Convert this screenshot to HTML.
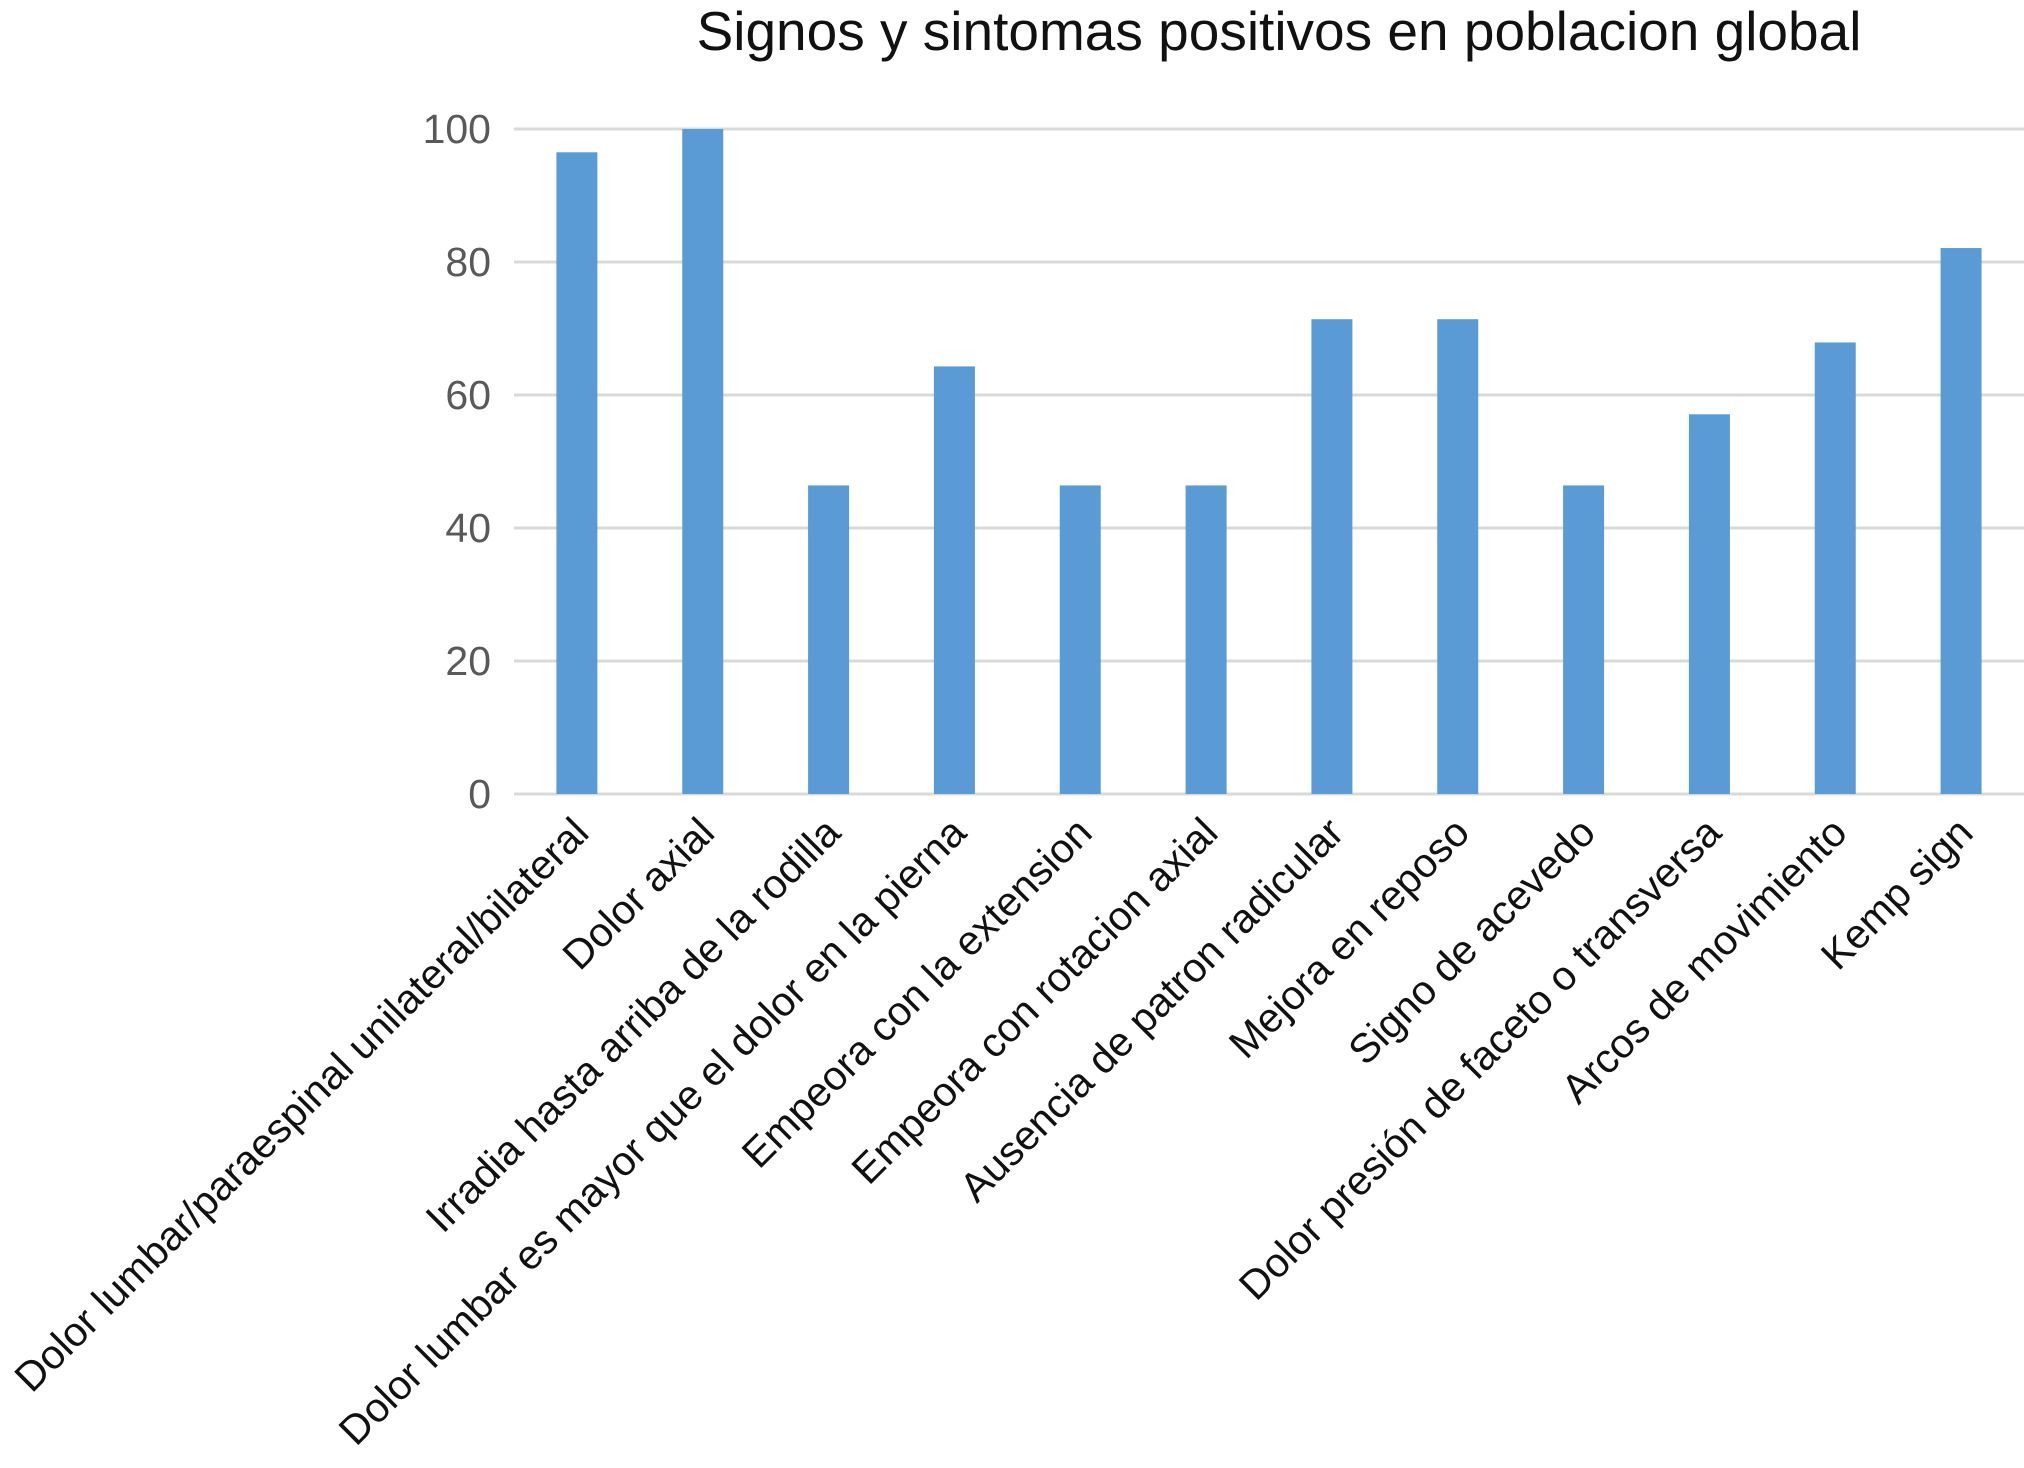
<!DOCTYPE html>
<html><head><meta charset="utf-8"><style>
html,body{margin:0;padding:0;background:#fff;}
svg{display:block;font-family:"Liberation Sans",Arial,sans-serif;}
</style></head><body>
<svg id="chart" width="2024" height="1468" viewBox="0 0 2024 1468">
<text x="1279" y="50" text-anchor="middle" font-size="55" fill="#111">Signos y sintomas positivos en poblacion global</text>
<g id="grid"></g><g id="bars"></g><g id="ylabels"></g><g id="xlabels"></g>
</svg>
<script>
const categories = ["Dolor lumbar/paraespinal unilateral/bilateral","Dolor axial","Irradia hasta arriba de la rodilla","Dolor lumbar es mayor que el dolor en la pierna","Empeora con la extension","Empeora con rotacion axial","Ausencia de patron radicular","Mejora en reposo","Signo de acevedo","Dolor presión de faceto o transversa","Arcos de movimiento","Kemp sign"];
const values = [96.5,100,46.4,64.3,46.4,46.4,71.4,71.4,46.4,57.1,67.9,82.1];
const yTicks = [0,20,40,60,80,100];
const NS="http://www.w3.org/2000/svg";
const x0=514,x1=2024,yBase=794,yTop=129,yMax=100;
const bw=(x1-x0)/categories.length;
function yScale(v){return yBase-(v/yMax)*(yBase-yTop);}
function xCenter(i){return x0+bw*(i+0.5);}
function mk(tag,attrs,parent){const e=document.createElementNS(NS,tag);for(const k in attrs)e.setAttribute(k,attrs[k]);parent.appendChild(e);return e;}
const grid=document.getElementById('grid'),bars=document.getElementById('bars'),yl=document.getElementById('ylabels'),xl=document.getElementById('xlabels');
yTicks.forEach(t=>{
  const l=mk('line',{x1:x0,x2:x1,y1:yScale(t),y2:yScale(t),stroke:'#d9d9d9','stroke-width':3},grid);
  
  
  const tx=mk('text',{x:491,y:yScale(t)+14,'text-anchor':'end','font-size':41,fill:'#595959'},yl);
  tx.textContent=t;
  
  
});
values.forEach((v,i)=>{
  const w=41;
  const r=mk('rect',{x:xCenter(i)-w/2,y:yScale(v),width:w,height:yBase-yScale(v),fill:'#5b9bd5'},bars);
  
  
  const cx=xCenter(i)+14, cy=835;
  const t=mk('text',{x:cx,y:cy,'text-anchor':'end','font-size':41,fill:'#111',transform:'rotate(-45 '+cx+' '+cy+')'},xl);
  t.textContent=categories[i];
  
  
});
</script>
</body></html>
